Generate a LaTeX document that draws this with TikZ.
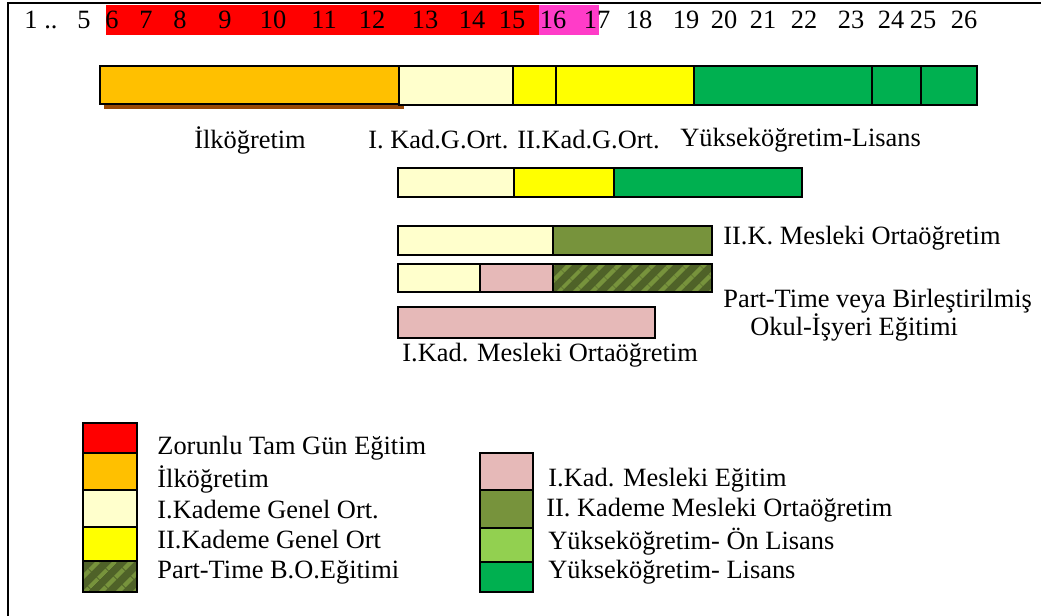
\documentclass[tikz,border=0pt]{standalone}
\usepackage{fontspec}
\setmainfont{Liberation Serif}
\usetikzlibrary{patterns.meta}
\definecolor{zred}{HTML}{FF0000}
\definecolor{zpink}{HTML}{FF3CC8}
\definecolor{ilk}{HTML}{FFC000}
\definecolor{krem}{HTML}{FFFFCC}
\definecolor{sari}{HTML}{FFFF00}
\definecolor{lisans}{HTML}{00B050}
\definecolor{onlisans}{HTML}{92D050}
\definecolor{meslek}{HTML}{77933C}
\definecolor{koyu}{HTML}{4F6228}
\definecolor{pembe}{HTML}{E6B9B8}
\definecolor{golge}{HTML}{984806}
\tikzset{
  kutu/.style={draw=black, line width=0.75pt},
  tarali/.style={kutu, preaction={fill=koyu},
    pattern={Lines[angle=45,distance=6.5pt,line width=2.4pt]}, pattern color=meslek},
  yazi/.style={font=\fontsize{13.2}{15}\selectfont, inner sep=0pt},
}
\begin{document}
\begin{tikzpicture}[x=0.5pt, y=-0.5pt]
  \useasboundingbox (0,0) rectangle (1041,616);
  \draw[line width=1pt] (8,616) -- (8,3) -- (1041,3);
  % age scale
  \fill[zred] (106,5) rectangle (539,35);
  \fill[zpink] (539,5) rectangle (599,35);
  \node[yazi] (yas) at (41,20) {1 ..};
  \foreach \n/\x in {5/84,6/112,7/146,8/180,9/225,10/273,11/324,12/372,13/425,
      14/472,15/512,16/553,17/597,18/639,19/686,20/724,21/763,22/804,23/851,
      24/891,25/923,26/964}
    \node[yazi] (n\n) at (\x,20) {\n};

  % general track
  \fill[golge] (104,70) rectangle (404,109);
  \draw[kutu, line width=1.1pt, fill=ilk] (100,66) rectangle (399,104);
  \draw[kutu, fill=krem] (399,66) rectangle (513,105);
  \draw[kutu, fill=sari] (513,66) rectangle (556,105);
  \draw[kutu, fill=sari] (556,66) rectangle (694,105);
  \draw[kutu, fill=lisans] (694,66) rectangle (872,105);
  \draw[kutu, fill=lisans] (872,66) rectangle (921,105);
  \draw[kutu, fill=lisans] (921,66) rectangle (977,105);
  \node[yazi] (ilkogr) at (250,140) {İlköğretim};
  \node[yazi, anchor=west] (kad1) at (368,140) {I. Kad.G.Ort.};
  \node[yazi, anchor=west] (kad2) at (517,140) {II.Kad.G.Ort.};
  \node[yazi, anchor=west] (yuksek) at (680,140) {Yükseköğretim-Lisans};

  % other tracks
  \draw[kutu, fill=krem] (398,168) rectangle (514,197);
  \draw[kutu, fill=sari] (514,168) rectangle (614,197);
  \draw[kutu, fill=lisans] (614,168) rectangle (802,197);

  \draw[kutu, fill=krem] (398,226) rectangle (553,255);
  \draw[kutu, fill=meslek] (553,226) rectangle (712,255);
  \node[yazi, anchor=west] (mesort) at (723,238) {II.K. Mesleki Ortaöğretim};

  \draw[kutu, fill=krem] (398,264) rectangle (480,292);
  \draw[kutu, fill=pembe] (480,264) rectangle (553,292);
  \draw[tarali] (553,264) rectangle (712,292);
  \node[yazi, anchor=west] (part) at (723,301) {Part-Time veya Birleştirilmiş};
  \node[yazi, anchor=west] (okul) at (750,327) {Okul-İşyeri Eğitimi};

  \draw[kutu, fill=pembe] (398,307) rectangle (655,338);
  \node[yazi, anchor=west] (kadmes) at (402,355) {I.Kad. Mesleki Ortaöğretim};

  % legend
  \draw[kutu, fill=zred] (83,423) rectangle (137,453);
  \draw[kutu, fill=ilk] (83,453) rectangle (137,490);
  \draw[kutu, fill=krem] (83,490) rectangle (137,527);
  \draw[kutu, fill=sari] (83,527) rectangle (137,561);
  \draw[tarali] (83,561) rectangle (137,592);
  \node[yazi, anchor=west] (lzor) at (157,448) {Zorunlu Tam Gün Eğitim};
  \node[yazi, anchor=west] (lilk) at (157,479) {İlköğretim};
  \node[yazi, anchor=west] (lkad1) at (157,510) {I.Kademe Genel Ort.};
  \node[yazi, anchor=west] (lkad2) at (157,540) {II.Kademe Genel Ort};
  \node[yazi, anchor=west] (lpart) at (157,572) {Part-Time B.O.Eğitimi};

  \draw[kutu, fill=pembe] (480,453) rectangle (533,490);
  \draw[kutu, fill=meslek] (480,490) rectangle (533,528);
  \draw[kutu, fill=onlisans] (480,528) rectangle (533,562);
  \draw[kutu, fill=lisans] (480,562) rectangle (533,592);
  \node[yazi, anchor=west] (lmes1) at (548,480) {I.Kad. Mesleki Eğitim};
  \node[yazi, anchor=west] (lmes2) at (546,510) {II. Kademe Mesleki Ortaöğretim};
  \node[yazi, anchor=west] (lon) at (548,542) {Yükseköğretim- Ön Lisans};
  \node[yazi, anchor=west] (llis) at (548,572) {Yükseköğretim- Lisans};
\end{tikzpicture}
\end{document}
